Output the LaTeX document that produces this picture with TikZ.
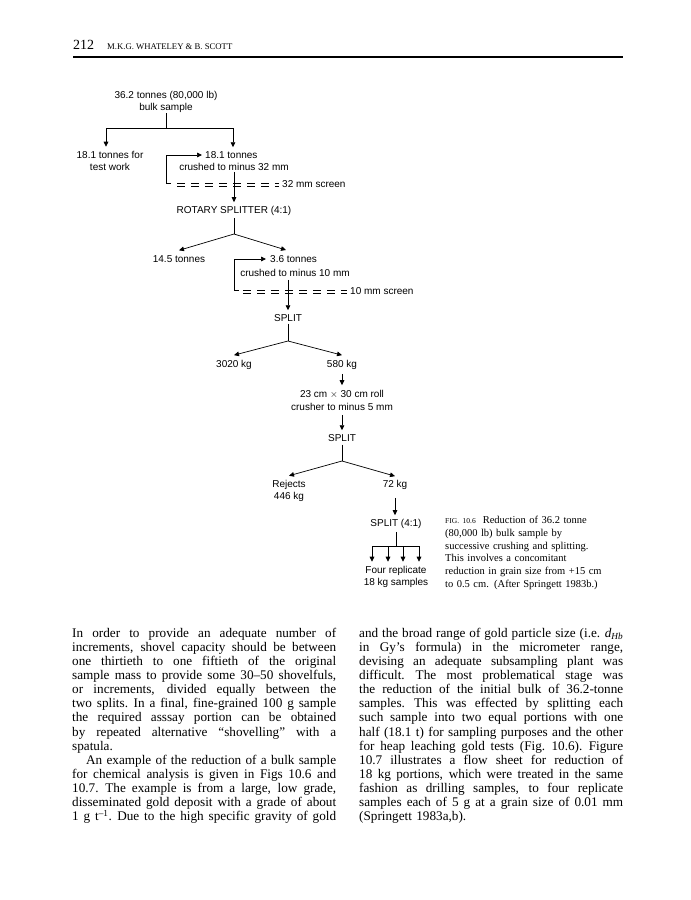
\documentclass[tikz,border=0pt]{standalone}
\usepackage{fontspec}
\setmainfont{Liberation Serif}
\setsansfont{Liberation Sans}
\usepackage{tikz}
\usetikzlibrary{arrows.meta, positioning}
\newlength\colw
\setlength\colw{264pt}
\newcommand{\jspaces}{\spaceskip=0.25em plus 2em minus 0.05em\xspaceskip=0.3em plus 2em minus 0.05em\relax}
\newcommand{\jline}[1]{\makebox[\colw][s]{\jspaces #1}}
\newcommand{\jindent}[1]{\hspace*{14pt}\makebox[\dimexpr\colw-14pt\relax][s]{\jspaces #1}}
\tikzset{
  flowtext/.style={inner sep=0pt, font=\sffamily\fontsize{10}{12.8}\selectfont, align=center},
  flowline/.style={line width=0.7pt},
  flowarrow/.style={flowline, -{Triangle[length=5pt,width=4.6pt]}},
  screenline/.style={line width=0.7pt, dash pattern=on 7.5pt off 6.5pt},
  bodytext/.style={inner sep=0pt, anchor=base west, text width=\colw, align=left,
    font=\fontsize{13.2}{14.15}\selectfont},
  captext/.style={inner sep=0pt, anchor=base west, text width=190pt, align=left,
    font=\fontsize{10.5}{12.8}\selectfont}
}
\begin{document}
\begin{tikzpicture}[x=1pt,y=-1pt]
  \useasboundingbox[fill=white] (0,0) rectangle (691,900);
  % running head
  \node[inner sep=0pt, anchor=base west, font=\fontsize{14}{14}\selectfont] (pagenum) at (73,49) {212};
  \node[inner sep=0pt, anchor=base west, font=\fontsize{8.7}{9}\selectfont] (runhead) at (107,49) {M.K.G. WHATELEY \& B. SCOTT};
  \coordinate (ruleL) at (73,57); \coordinate (ruleR) at (623,57);
  \draw[line width=1.2pt] (ruleL) -- (ruleR);
  % flow sheet
  \node[flowtext] (bulk) at (166,102) {36.2 tonnes (80,000 lb)\\bulk sample};
  \node[flowtext] (test) at (110,161) {18.1 tonnes for\\test work};
  \node[flowtext, anchor=west] (t181) at (205,155) {18.1 tonnes};
  \node[flowtext] (crush1) at (234,167) {crushed to minus 32 mm};
  \node[flowtext, anchor=west] (scr1) at (282,184.5) {32 mm screen};
  \node[flowtext] (rotary) at (234,211) {ROTARY SPLITTER (4:1)};
  \node[flowtext] (t145) at (179,259) {14.5 tonnes};
  \node[flowtext, anchor=west] (t36) at (270,259) {3.6 tonnes};
  \node[flowtext] (crush2) at (295,273) {crushed to minus 10 mm};
  \node[flowtext, anchor=west] (scr2) at (350,291.5) {10 mm screen};
  \node[flowtext] (split1) at (288,318) {SPLIT};
  \node[flowtext] (kg3020) at (234,365) {3020 kg};
  \node[flowtext] (kg580) at (342,365) {580 kg};
  \node[flowtext] (roll) at (342,400.5) {23 cm $\times$ 30 cm roll\\crusher to minus 5 mm};
  \node[flowtext] (split2) at (342,438) {SPLIT};
  \node[flowtext] (rejects) at (289,491) {Rejects\\446 kg};
  \node[flowtext] (kg72) at (395,485) {72 kg};
  \node[flowtext] (split3) at (396,524) {SPLIT (4:1)};
  \node[flowtext] (four) at (396,577) {Four replicate\\18 kg samples};
  % junctions
  \coordinate (j1) at (166,128); \coordinate (j1l) at (106,128); \coordinate (j1r) at (233,128);
  \coordinate (loop1) at (166,183); \coordinate (s1a) at (177,183); \coordinate (s1b) at (279,183);
  \coordinate (j2) at (234,234); \coordinate (a36) at (286,250);
  \coordinate (loop2) at (234,290); \coordinate (s2a) at (243,290); \coordinate (s2b) at (347,290);
  \coordinate (j3) at (288,341); \coordinate (j4) at (342,461); \coordinate (j5) at (396,546);
  % first split
  \draw[flowline] (bulk) -- (j1);
  \draw[flowline] (j1l) -- (j1r);
  \draw[flowarrow, shorten >=4pt] (j1l) -- (j1l |- test.north);
  \draw[flowarrow, shorten >=4pt] (j1r) -- (j1r |- t181.north);
  % 32 mm screen loop
  \draw[flowarrow, shorten >=3pt] ([xshift=5pt]loop1) -- (loop1) -- (loop1 |- t181.west) -- (t181.west);
  \draw[screenline] (s1a) -- (s1b);
  \draw[screenline] ([yshift=-3pt]s1a) -- ([yshift=-3pt]s1b);
  \draw[flowarrow, shorten <=1pt, shorten >=4pt] (crush1.south) -- (crush1.south |- rotary.north);
  % rotary splitter
  \draw[flowline, shorten <=2pt] (rotary.south) -- (j2);
  \draw[flowarrow] (j2) -- ([yshift=5pt]t145.north);
  \draw[flowarrow] (j2) -- (a36);
  % 10 mm screen loop
  \draw[flowarrow, shorten >=4pt] ([xshift=5pt]loop2) -- (loop2) -- (loop2 |- t36.west) -- (t36.west);
  \draw[screenline] (s2a) -- (s2b);
  \draw[screenline] ([yshift=-3pt]s2a) -- ([yshift=-3pt]s2b);
  \draw[flowarrow, shorten <=3pt, shorten >=4pt] (crush2.south -| split1) -- (split1.north);
  % split
  \draw[flowline, shorten <=2pt] (split1.south) -- (j3);
  \draw[flowarrow] (j3) -- ([yshift=5pt]kg3020.north);
  \draw[flowarrow] (j3) -- ([yshift=5pt]kg580.north);
  \draw[flowarrow, shorten <=4pt, shorten >=5pt] (kg580.south) -- (roll.north);
  \draw[flowarrow, shorten <=4pt, shorten >=4pt] (roll.south) -- (split2.north);
  \draw[flowline, shorten <=3pt] (split2.south) -- (j4);
  \draw[flowarrow] (j4) -- ([yshift=4pt]rejects.north);
  \draw[flowarrow] (j4) -- ([yshift=4pt]kg72.north);
  \draw[flowarrow, shorten <=8pt, shorten >=4pt] (kg72.south) -- (kg72.south |- split3.north);
  \draw[flowline, shorten <=3pt] (split3.south) -- (j5);
  \draw[flowline] ([xshift=-24pt]j5) -- ([xshift=23pt]j5);
  \foreach \dx in {-24,-8,7,23}
    \draw[flowarrow, shorten >=4pt] ([xshift=\dx pt]j5) -- ([xshift=\dx pt]j5 |- four.north);
  % caption
  \node[captext] (caption) at (445,523.5) {%
    {\fontsize{7.5}{12.8}\selectfont FIG. 10.6}\hspace{7pt}Reduction of 36.2 tonne\\
    (80,000 lb) bulk sample by\\
    successive crushing and splitting.\\
    This involves a concomitant\\
    reduction in grain size from +15 cm\\
    to 0.5 cm. (After Springett 1983b.)};
  % body text
  \node[bodytext] (leftcol) at (72,637) {%
    \jline{In order to provide an adequate number of}\\
    \jline{increments, shovel capacity should be between}\\
    \jline{one thirtieth to one fiftieth of the original}\\
    \jline{sample mass to provide some 30--50 shovelfuls,}\\
    \jline{or increments, divided equally between the}\\
    \jline{two splits. In a final, fine-grained 100 g sample}\\
    \jline{the required asssay portion can be obtained}\\
    \jline{by repeated alternative ``shovelling'' with a}\\
    spatula.\\
    \jindent{An example of the reduction of a bulk sample}\\
    \jline{for chemical analysis is given in Figs 10.6 and}\\
    \jline{10.7. The example is from a large, low grade,}\\
    \jline{disseminated gold deposit with a grade of about}\\
    \jline{1 g t\textsuperscript{--1}. Due to the high specific gravity of gold}};
  \node[bodytext] (rightcol) at (359,637) {%
    \jline{and the broad range of gold particle size (i.e. \textit{d}\textsubscript{\textit{Hb}}}\\
    \jline{in Gy's formula) in the micrometer range,}\\
    \jline{devising an adequate subsampling plant was}\\
    \jline{difficult. The most problematical stage was}\\
    \jline{the reduction of the initial bulk of 36.2-tonne}\\
    \jline{samples. This was effected by splitting each}\\
    \jline{such sample into two equal portions with one}\\
    \jline{half (18.1 t) for sampling purposes and the other}\\
    \jline{for heap leaching gold tests (Fig. 10.6). Figure}\\
    \jline{10.7 illustrates a flow sheet for reduction of}\\
    \jline{18 kg portions, which were treated in the same}\\
    \jline{fashion as drilling samples, to four replicate}\\
    \jline{samples each of 5 g at a grain size of 0.01 mm}\\
    (Springett 1983a,b).};
\end{tikzpicture}
\end{document}
